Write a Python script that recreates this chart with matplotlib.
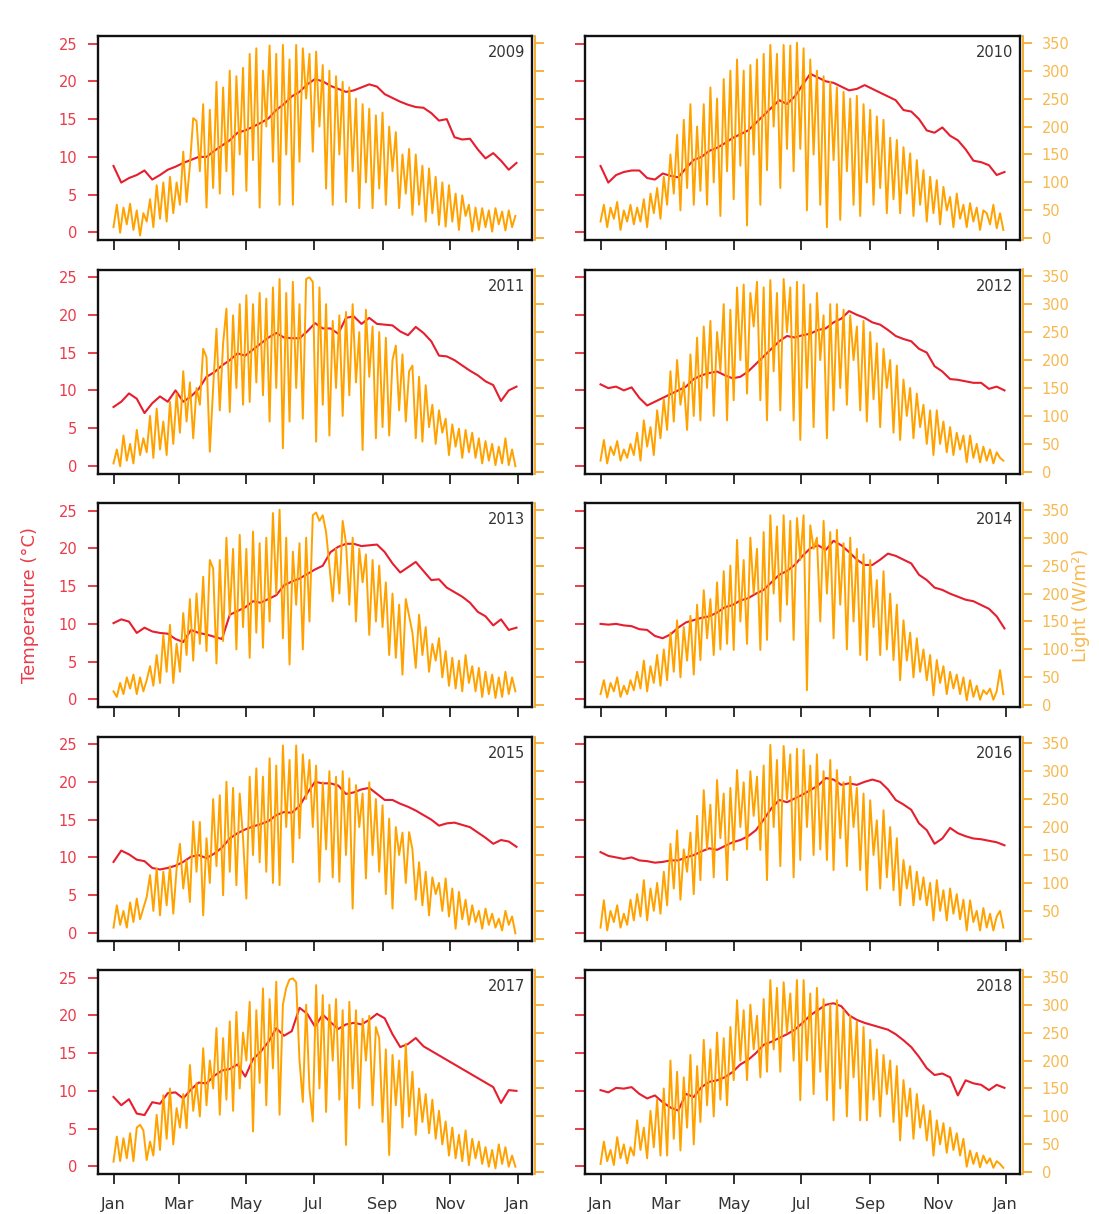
#!/usr/bin/env python3
"""
Daily temperature and light at the site, one panel per year (2009-2018).
"""

import numpy as np
import matplotlib
matplotlib.use("Agg")
import matplotlib.pyplot as plt


FIG_W_PX = 1099
FIG_H_PX = 1214
DPI = 100

RED_LINE = "#e61e2d"
RED_TEXT = "#ec3a4a"
ORANGE_LINE = "#ffa200"
ORANGE_AXIS = "#f5a623"
ORANGE_TEXT = "#f7b94e"
DARK_TEXT = "#333333"

YEARS = [2009, 2010, 2011, 2012, 2013, 2014, 2015, 2016, 2017, 2018]
MONTH_TICKS = [0, 59, 120, 181, 243, 304, 365]
MONTH_LABELS = ["Jan", "Mar", "May", "Jul", "Sep", "Nov", "Jan"]
TEMP_TICKS = [0, 5, 10, 15, 20, 25]
LIGHT_TICKS = [0, 50, 100, 150, 200, 250, 300, 350]

# day of year of each reading: temperature weekly, light every third day
TEMP_DAYS = np.arange(0, 365, 7)
LIGHT_DAYS = np.arange(0, 364, 3)

# weekly temperature (deg C)
temp_2009 = [8.8, 6.6, 7.2, 7.6, 8.2, 7.0, 7.6, 8.3, 8.7, 9.2,
             9.6, 10.0, 10.0, 10.8, 11.5, 12.2, 13.2, 13.5, 14.0, 14.5,
             15.1, 16.2, 17.0, 18.0, 18.6, 19.6, 20.3, 20.0, 19.4, 19.0,
             18.6, 18.8, 19.2, 19.6, 19.3, 18.3, 17.8, 17.3, 16.9, 16.6,
             16.5, 15.8, 14.8, 15.0, 12.6, 12.3, 12.4, 11.0, 9.8, 10.5,
             9.5, 8.3, 9.2]
temp_2010 = [8.8, 6.6, 7.6, 8.0, 8.2, 8.2, 7.2, 7.0, 7.8, 7.5,
             7.3, 8.5, 9.6, 10.0, 10.8, 11.2, 11.8, 12.5, 13.0, 13.5,
             14.5, 15.5, 16.5, 17.5, 17.0, 18.0, 19.5, 21.0, 20.5, 20.0,
             19.8, 19.3, 18.8, 19.0, 19.5, 19.0, 18.5, 18.0, 17.5, 16.2,
             16.0, 15.0, 13.5, 13.2, 13.9, 12.8, 12.2, 11.0, 9.5, 9.3,
             8.9, 7.6, 8.0]
temp_2011 = [7.8, 8.5, 9.6, 8.9, 7.0, 8.3, 9.2, 8.5, 10.0, 8.5,
             9.2, 10.2, 11.8, 12.4, 13.3, 14.0, 14.9, 14.6, 15.4, 16.2,
             17.0, 17.6, 17.0, 16.9, 16.9, 17.8, 18.9, 18.2, 18.2, 17.5,
             19.6, 19.8, 18.8, 19.6, 18.8, 18.7, 18.6, 17.8, 17.3, 18.4,
             17.6, 16.5, 14.6, 14.5, 14.0, 13.3, 12.6, 12.0, 11.2, 10.7,
             8.6, 10.0, 10.5]
temp_2012 = [10.8, 10.3, 10.5, 10.0, 10.4, 9.0, 8.0, 8.5, 9.0, 9.5,
             10.0, 10.5, 11.5, 12.0, 12.3, 12.5, 12.0, 11.6, 11.8, 12.5,
             13.5, 14.5, 15.5, 16.5, 17.2, 17.0, 17.3, 17.5, 18.0, 18.2,
             19.0, 19.5, 20.5, 20.0, 19.6, 19.0, 18.7, 18.0, 17.2, 16.8,
             16.5, 15.5, 15.0, 13.2, 12.5, 11.5, 11.4, 11.2, 11.0, 11.0,
             10.2, 10.5, 10.0]
temp_2013 = [10.1, 10.6, 10.3, 8.8, 9.5, 9.0, 8.8, 8.7, 8.0, 7.6,
             9.2, 8.8, 8.6, 8.3, 8.0, 11.2, 11.7, 12.2, 13.0, 12.8,
             13.3, 13.8, 15.1, 15.6, 16.0, 16.6, 17.2, 17.7, 19.5, 20.2,
             20.6, 20.6, 20.3, 20.4, 20.5, 19.5, 18.0, 16.8, 17.5, 18.2,
             17.0, 15.8, 15.9, 14.8, 14.2, 13.6, 12.8, 11.6, 11.0, 9.8,
             10.6, 9.2, 9.5]
temp_2014 = [10.0, 9.9, 10.0, 9.8, 9.7, 9.3, 9.2, 8.4, 8.1, 8.6,
             9.5, 10.2, 10.5, 10.8, 11.0, 11.5, 12.2, 12.5, 13.1, 13.4,
             14.0, 14.5, 15.5, 16.5, 17.0, 17.8, 19.0, 20.0, 20.4, 19.8,
             21.0, 20.4, 19.5, 18.5, 17.8, 17.8, 18.5, 19.3, 19.0, 18.5,
             18.0, 16.5, 15.8, 14.8, 14.5, 14.0, 13.6, 13.2, 13.0, 12.5,
             12.0, 11.0, 9.4]
temp_2015 = [9.4, 10.9, 10.4, 9.7, 9.5, 8.6, 8.4, 8.6, 8.9, 9.4,
             10.1, 10.3, 9.9, 10.5, 11.3, 12.5, 13.2, 13.7, 14.1, 14.4,
             14.8, 15.6, 16.0, 15.9, 16.8, 18.5, 20.0, 19.8, 19.8, 19.5,
             18.4, 18.6, 19.0, 19.2, 18.4, 17.6, 17.6, 17.1, 16.7, 16.2,
             15.6, 15.0, 14.2, 14.5, 14.6, 14.3, 14.0, 13.3, 12.6, 11.8,
             12.3, 12.1, 11.4]
temp_2016 = [10.7, 10.2, 10.0, 9.8, 10.0, 9.6, 9.5, 9.3, 9.4, 9.6,
             9.6, 10.0, 10.3, 10.8, 11.2, 11.0, 11.5, 12.0, 12.3, 12.8,
             13.6, 15.0, 16.5, 17.6, 17.3, 17.8, 18.3, 18.9, 19.5, 20.5,
             20.3, 19.6, 19.8, 19.6, 20.0, 20.3, 20.0, 19.0, 17.6, 17.0,
             16.3, 14.5, 13.6, 11.8, 12.5, 13.9, 13.2, 12.8, 12.5, 12.4,
             12.2, 12.0, 11.6]
# 2017 logger gap in Oct-Dec: missing weeks are None
temp_2017 = [9.2, 8.1, 8.9, 7.0, 6.8, 8.5, 8.3, 9.7, 9.8, 9.0,
             10.2, 11.1, 11.0, 12.0, 12.7, 12.9, 13.5, 11.9, 14.2, 15.2,
             16.5, 18.3, 17.3, 17.9, 21.0, 20.2, 18.5, 20.1, 19.1, 18.2,
             18.8, 19.0, 18.8, 19.4, 20.2, 19.6, 17.5, 15.8, 16.2, 17.0,
             15.9, None, None, None, None, None, None, None, None, 10.5,
             8.4, 10.1, 10.0]
temp_2018 = [10.1, 9.8, 10.4, 10.3, 10.5, 9.6, 9.0, 9.4, 8.5, 7.8,
             7.4, 9.6, 9.2, 10.5, 11.2, 11.4, 11.8, 12.5, 13.5, 14.1,
             15.0, 16.1, 16.5, 17.0, 17.5, 18.1, 19.0, 20.0, 20.7, 21.4,
             21.6, 21.2, 20.0, 19.4, 19.0, 18.7, 18.4, 18.1, 17.5, 16.7,
             15.8, 14.5, 13.0, 12.1, 12.3, 11.8, 9.4, 11.4, 11.0, 10.8,
             10.1, 10.8, 10.4]

# light every third day (W/m2), one line per ~month
light_2009 = [20, 60, 10, 55, 25, 62, 15, 50, 5, 45,
              30, 70, 20, 95, 35, 100, 30, 110, 45, 100,
              60, 155, 65, 130, 215, 210, 120, 240, 55, 230,
              90, 280, 80, 270, 120, 300, 78, 290, 150, 305,
              85, 330, 140, 340, 55, 300, 200, 345, 137, 330,
              60, 346, 150, 320, 60, 346, 137, 340, 250, 330,
              155, 334, 200, 310, 89, 300, 60, 290, 150, 280,
              65, 270, 120, 250, 54, 240, 100, 232, 54, 220,
              89, 225, 60, 200, 120, 190, 54, 150, 80, 160,
              42, 150, 60, 130, 30, 125, 45, 110, 24, 100,
              21, 95, 30, 80, 15, 77, 40, 60, 12, 55,
              15, 54, 20, 50, 12, 54, 25, 48, 14, 50,
              20, 40]
light_2010 = [30, 60, 20, 55, 35, 65, 15, 50, 30, 60,
              25, 55, 30, 70, 20, 80, 45, 90, 35, 110,
              60, 150, 80, 185, 50, 212, 90, 240, 60, 200,
              85, 240, 60, 270, 100, 250, 40, 285, 120, 300,
              70, 320, 130, 300, 23, 310, 150, 320, 60, 330,
              122, 346, 200, 330, 90, 346, 160, 345, 120, 350,
              160, 340, 50, 320, 150, 300, 60, 290, 20, 280,
              140, 270, 33, 262, 120, 250, 60, 255, 40, 240,
              100, 230, 60, 218, 90, 212, 45, 180, 70, 176,
              45, 163, 80, 152, 40, 140, 60, 122, 30, 110,
              45, 104, 25, 92, 50, 74, 20, 80, 35, 60,
              20, 63, 30, 55, 15, 50, 45, 25, 60, 18,
              45, 15]
light_2011 = [15, 40, 10, 65, 20, 50, 15, 75, 30, 60,
              35, 100, 25, 113, 40, 90, 30, 125, 50, 140,
              70, 180, 90, 160, 60, 150, 120, 220, 205, 36,
              150, 256, 110, 230, 292, 107, 280, 150, 300, 120,
              316, 125, 300, 160, 320, 137, 310, 90, 330, 150,
              345, 42, 320, 90, 340, 150, 300, 95, 345, 348,
              340, 54, 330, 120, 300, 65, 270, 150, 280, 100,
              286, 137, 300, 160, 250, 39, 290, 170, 260, 60,
              250, 80, 240, 65, 200, 226, 110, 210, 90, 180,
              190, 60, 170, 54, 155, 80, 120, 50, 110, 70,
              95, 30, 85, 45, 77, 25, 75, 35, 70, 25,
              60, 15, 55, 20, 50, 12, 45, 15, 60, 12,
              40, 10]
light_2012 = [20, 57, 15, 45, 30, 55, 20, 40, 25, 50,
              30, 70, 20, 92, 45, 80, 30, 110, 60, 130,
              75, 180, 90, 200, 120, 160, 75, 210, 100, 240,
              92, 260, 150, 270, 100, 250, 180, 300, 92, 290,
              128, 330, 200, 335, 140, 320, 260, 340, 128, 330,
              92, 343, 180, 320, 110, 345, 250, 330, 92, 340,
              57, 335, 150, 300, 80, 320, 200, 280, 60, 300,
              110, 300, 150, 290, 120, 280, 200, 260, 110, 270,
              90, 250, 130, 230, 80, 220, 150, 200, 70, 190,
              57, 165, 100, 150, 60, 140, 80, 120, 50, 110,
              30, 110, 50, 90, 35, 80, 30, 70, 40, 65,
              17, 65, 25, 50, 17, 45, 20, 40, 15, 35,
              25, 20]
light_2013 = [25, 15, 40, 20, 50, 30, 55, 20, 50, 25,
              45, 70, 35, 90, 40, 126, 60, 144, 40, 110,
              60, 165, 90, 190, 80, 200, 110, 230, 97, 260,
              245, 75, 260, 115, 300, 160, 280, 100, 305, 140,
              280, 85, 311, 130, 290, 103, 300, 150, 344, 200,
              350, 120, 300, 73, 275, 180, 290, 100, 300, 150,
              340, 345, 330, 340, 310, 250, 186, 280, 200, 330,
              290, 180, 300, 150, 280, 220, 270, 126, 260, 150,
              250, 140, 220, 90, 200, 85, 180, 55, 190, 160,
              130, 67, 162, 90, 140, 60, 110, 80, 120, 50,
              97, 35, 85, 30, 80, 25, 90, 40, 70, 25,
              67, 15, 60, 20, 55, 13, 50, 15, 60, 20,
              50, 25]
light_2014 = [20, 45, 14, 40, 25, 50, 15, 35, 20, 45,
              27, 60, 30, 80, 25, 70, 40, 90, 35, 100,
              45, 130, 60, 152, 50, 140, 80, 160, 55, 180,
              81, 206, 120, 190, 90, 220, 100, 240, 110, 250,
              99, 296, 150, 260, 110, 300, 200, 280, 99, 310,
              117, 340, 200, 320, 150, 340, 180, 330, 117, 335,
              260, 340, 27, 322, 280, 300, 150, 330, 200, 310,
              120, 314, 180, 290, 100, 300, 150, 280, 90, 270,
              81, 260, 140, 224, 90, 240, 100, 200, 81, 180,
              45, 152, 80, 130, 50, 120, 60, 100, 45, 90,
              18, 81, 40, 70, 20, 60, 30, 55, 20, 50,
              9, 45, 15, 35, 10, 27, 20, 30, 10, 25,
              63, 20]
light_2015 = [20, 60, 25, 50, 20, 65, 30, 72, 35, 55,
              75, 114, 50, 126, 42, 120, 60, 130, 45, 125,
              170, 90, 140, 66, 210, 120, 209, 42, 180, 100,
              250, 130, 257, 78, 281, 120, 270, 96, 260, 180,
              72, 290, 150, 305, 137, 290, 120, 323, 100, 310,
              96, 346, 200, 320, 137, 346, 180, 330, 250, 320,
              200, 310, 102, 280, 160, 300, 110, 290, 102, 300,
              150, 287, 54, 275, 200, 260, 108, 280, 150, 250,
              120, 239, 80, 215, 54, 200, 150, 190, 100, 191,
              160, 70, 137, 60, 120, 42, 110, 80, 100, 50,
              108, 40, 90, 18, 84, 35, 70, 25, 60, 30,
              50, 18, 54, 25, 45, 20, 36, 15, 50, 25,
              40, 10]
light_2016 = [20, 69, 15, 50, 30, 60, 20, 45, 25, 70,
              33, 80, 40, 105, 33, 90, 50, 100, 45, 120,
              60, 170, 90, 194, 70, 160, 120, 190, 80, 220,
              105, 266, 160, 240, 110, 284, 180, 260, 105, 270,
              159, 302, 200, 280, 160, 300, 220, 290, 159, 310,
              105, 347, 200, 320, 130, 345, 250, 330, 110, 340,
              141, 338, 200, 310, 150, 330, 160, 300, 141, 320,
              123, 302, 180, 280, 130, 290, 200, 270, 123, 260,
              87, 248, 150, 212, 90, 230, 110, 200, 87, 180,
              60, 141, 90, 130, 60, 120, 70, 110, 60, 100,
              33, 105, 50, 87, 33, 90, 45, 80, 35, 70,
              15, 69, 30, 50, 15, 55, 20, 45, 15, 40,
              50, 20]
light_2017 = [19, 64, 20, 61, 25, 70, 20, 80, 85, 75,
              22, 55, 30, 103, 40, 138, 60, 150, 50, 115,
              80, 140, 79, 192, 110, 160, 100, 222, 120, 200,
              150, 258, 103, 240, 130, 270, 110, 287, 150, 250,
              200, 305, 73, 290, 160, 329, 120, 310, 186, 341,
              103, 300, 330, 345, 347, 340, 200, 126, 300, 150,
              91, 335, 150, 317, 108, 300, 200, 310, 130, 290,
              49, 305, 150, 290, 115, 275, 200, 280, 120, 260,
              240, 90, 220, 31, 210, 120, 200, 80, 230, 100,
              180, 67, 150, 90, 140, 70, 130, 60, 110, 50,
              91, 30, 80, 25, 67, 20, 75, 13, 60, 25,
              55, 15, 45, 10, 40, 7, 50, 15, 45, 10,
              30, 10]
light_2018 = [15, 55, 20, 40, 13, 63, 25, 50, 16, 45,
              30, 93, 40, 80, 25, 110, 45, 130, 30, 150,
              30, 200, 60, 180, 39, 170, 80, 210, 50, 190,
              90, 237, 120, 220, 100, 250, 130, 240, 120, 260,
              165, 308, 200, 290, 165, 300, 220, 280, 170, 310,
              180, 344, 220, 330, 180, 340, 250, 320, 200, 344,
              129, 344, 200, 320, 140, 330, 180, 310, 129, 300,
              93, 308, 150, 290, 100, 280, 170, 270, 93, 260,
              93, 237, 130, 220, 100, 210, 140, 200, 90, 190,
              57, 165, 100, 150, 60, 140, 80, 120, 57, 110,
              30, 93, 50, 88, 35, 80, 40, 70, 30, 60,
              10, 39, 15, 35, 9, 30, 16, 25, 8, 20,
              15, 8]

TEMPERATURE = {2009: temp_2009, 2010: temp_2010, 2011: temp_2011,
               2012: temp_2012, 2013: temp_2013, 2014: temp_2014,
               2015: temp_2015, 2016: temp_2016, 2017: temp_2017,
               2018: temp_2018}
LIGHT = {2009: light_2009, 2010: light_2010, 2011: light_2011,
         2012: light_2012, 2013: light_2013, 2014: light_2014,
         2015: light_2015, 2016: light_2016, 2017: light_2017,
         2018: light_2018}

# panel boxes in pixels of the 1099x1214 figure
COL_LEFT = [98, 585]
COL_WIDTH = [434, 435]
ROW_TOP = [36, 269.5, 503, 736.5, 970]
ROW_HEIGHT = 204


def _panel_rect(row, col):
    left = COL_LEFT[col] / FIG_W_PX
    bottom = 1 - (ROW_TOP[row] + ROW_HEIGHT) / FIG_H_PX
    return [left, bottom, COL_WIDTH[col] / FIG_W_PX, ROW_HEIGHT / FIG_H_PX]


def draw_panel(fig, year, row, col):
    temp = np.array([np.nan if v is None else v for v in TEMPERATURE[year]], dtype=float)
    light = np.array(LIGHT[year], dtype=float)
    if len(temp) != len(TEMP_DAYS) or len(light) != len(LIGHT_DAYS):
        raise ValueError(f"{year}: {len(temp)} temps, {len(light)} light values")
    ok = ~np.isnan(temp)

    ax = fig.add_axes(_panel_rect(row, col))
    ax.plot(TEMP_DAYS[ok], temp[ok], color=RED_LINE, lw=1.5, zorder=2)
    ax.set_xlim(-14, 378)
    ax.set_ylim(-1.0, 26.0)
    ax.set_yticks(TEMP_TICKS)
    ax.set_xticks(MONTH_TICKS)
    ax.set_xticklabels(MONTH_LABELS)
    for side in ax.spines.values():
        side.set_color("#111111")
        side.set_linewidth(1.7)
    ax.tick_params(axis="y", direction="out", length=7, width=1.2,
                   color=RED_LINE, labelcolor=RED_TEXT, labelsize=10.5, pad=8,
                   labelleft=(col == 0))
    ax.tick_params(axis="x", direction="out", length=7.5, width=1.3,
                   color="#222222", labelcolor=DARK_TEXT, labelsize=11.5, pad=9,
                   labelbottom=(row == 4))

    ax2 = ax.twinx()
    ax2.plot(LIGHT_DAYS, light, color=ORANGE_LINE, lw=1.4, zorder=3)
    ax2.set_ylim(-3, 362)
    ax2.set_yticks(LIGHT_TICKS)
    if year == 2016:
        ax2.set_yticklabels([""] + [str(t) for t in LIGHT_TICKS[1:]])
    for name in ("left", "top", "bottom"):
        ax2.spines[name].set_visible(False)
    ax2.spines["right"].set_color(ORANGE_AXIS)
    ax2.spines["right"].set_linewidth(1.3)
    ax2.spines["right"].set_position(("outward", 2))
    ax2.tick_params(axis="y", direction="out", length=6.5, width=1.2,
                    color=ORANGE_AXIS, labelcolor=ORANGE_TEXT, labelsize=10.5,
                    pad=7, labelright=(col == 1))

    ax2.text(0.984, 0.955, str(year), transform=ax.transAxes, ha="right",
             va="top", fontsize=10.5, color=DARK_TEXT, zorder=5)


def main():
    plt.rcParams["font.family"] = "DejaVu Sans"
    fig = plt.figure(figsize=(FIG_W_PX / DPI, FIG_H_PX / DPI), dpi=DPI)

    for i, year in enumerate(YEARS):
        row, col = divmod(i, 2)
        draw_panel(fig, year, row, col)

    fig.text(30 / FIG_W_PX, 1 - 605 / FIG_H_PX, "Temperature (°C)",
             rotation=90, ha="center", va="center", fontsize=13,
             color=RED_TEXT)
    fig.text(1081 / FIG_W_PX, 1 - 605 / FIG_H_PX, "Light (W/m²)",
             rotation=90, ha="center", va="center", fontsize=13,
             color=ORANGE_TEXT)

    fig.savefig("out.png", dpi=DPI)
    plt.close(fig)


if __name__ == "__main__":
    main()
